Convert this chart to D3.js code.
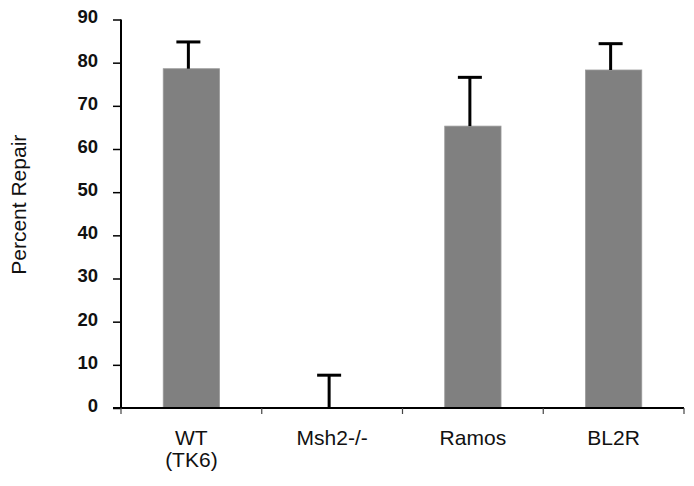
<!DOCTYPE html>
<html>
<head>
<meta charset="utf-8">
<script src="https://cdn.jsdelivr.net/npm/d3@7"></script>
<style>
  body { margin: 0; background: #fff; }
  svg { display: block; }
</style>
</head>
<body>
<div id="chart"></div>
<script>
// data
const categories = ["WT\n(TK6)", "Msh2-/-", "Ramos", "BL2R"];
const means = [78.6, 0, 65.3, 78.3];
const errors = [6.2, 7.6, 11.3, 6.1];
const yTicks = [0, 10, 20, 30, 40, 50, 60, 70, 80, 90];

const width = 694, height = 486;
const margin = {top: 19.5, right: 10, bottom: 78, left: 121};

const svg = d3.select("#chart").append("svg")
    .attr("width", width)
    .attr("height", height)
    .style("font-family", "'Liberation Sans', Arial, sans-serif");

const x = d3.scaleBand()
    .domain(categories)
    .range([margin.left, width - margin.right])
    .paddingInner(0.6)
    .paddingOuter(0.3);

const y = d3.scaleLinear()
    .domain([0, 90])
    .range([height - margin.bottom, margin.top]);

// bars
svg.append("g")
    .selectAll("rect")
    .data(means)
    .join("rect")
    .attr("x", (d, i) => x(categories[i]))
    .attr("y", d => y(d))
    .attr("width", x.bandwidth())
    .attr("height", d => y(0) - y(d))
    .attr("fill", "#808080")
    .attr("stroke", "#9a9a9a")
    .attr("stroke-width", 0.8);

// error bars (upper only), drawn slightly left of bar centre like the original
const errOffset = -3;
const capW = 24;
const err = svg.append("g")
    .attr("stroke", "#000")
    .attr("stroke-width", 3);

err.selectAll("line.stem")
    .data(means)
    .join("line")
    .attr("class", "stem")
    .attr("x1", (d, i) => x(categories[i]) + x.bandwidth() / 2 + errOffset)
    .attr("x2", (d, i) => x(categories[i]) + x.bandwidth() / 2 + errOffset)
    .attr("y1", d => y(d))
    .attr("y2", (d, i) => y(d + errors[i]));

err.selectAll("line.cap")
    .data(means)
    .join("line")
    .attr("class", "cap")
    .attr("x1", (d, i) => x(categories[i]) + x.bandwidth() / 2 + errOffset - capW / 2)
    .attr("x2", (d, i) => x(categories[i]) + x.bandwidth() / 2 + errOffset + capW / 2)
    .attr("y1", (d, i) => y(d + errors[i]))
    .attr("y2", (d, i) => y(d + errors[i]));

// y axis
const yAxis = svg.append("g")
    .attr("transform", `translate(${margin.left},0)`)
    .call(d3.axisLeft(y).tickValues(yTicks).tickSize(8).tickPadding(15));

yAxis.select(".domain").attr("stroke-width", 2).attr("d", `M0,${y(90)}V${y(0)}`);
yAxis.selectAll(".tick line").attr("stroke-width", 1.5);
yAxis.selectAll(".tick text")
    .attr("font-size", 18.5)
    .attr("font-weight", "bold")
    .attr("font-family", "'Liberation Sans', Arial, sans-serif")
    .attr("fill", "#111")
    .attr("dy", "0.18em");

// x axis: ticks sit between categories
const xAxisG = svg.append("g")
    .attr("transform", `translate(0,${y(0)})`);

xAxisG.append("line")
    .attr("x1", margin.left - 8)
    .attr("x2", width - margin.right)
    .attr("stroke", "#000")
    .attr("stroke-width", 2);

const step = x.step();
const bounds = d3.range(categories.length + 1).map(i => margin.left + i * step);
xAxisG.selectAll("line.sep")
    .data(bounds)
    .join("line")
    .attr("class", "sep")
    .attr("x1", d => d)
    .attr("x2", d => d)
    .attr("y1", 0)
    .attr("y2", 6)
    .attr("stroke", "#444")
    .attr("stroke-width", 1.2);

const labels = xAxisG.selectAll("text")
    .data(categories)
    .join("text")
    .attr("x", d => x(d) + x.bandwidth() / 2)
    .attr("y", 37)
    .attr("text-anchor", "middle")
    .attr("font-size", 21)
    .attr("fill", "#111");

labels.each(function(d) {
    const parts = d.split("\n");
    d3.select(this).selectAll("tspan")
        .data(parts)
        .join("tspan")
        .attr("x", x(d) + x.bandwidth() / 2)
        .attr("dy", (p, j) => j === 0 ? 0 : 22)
        .text(p => p);
});

// y title
svg.append("text")
    .attr("transform", `translate(25.5,${(y(0) + y(90)) / 2 - 9}) rotate(-90)`)
    .attr("text-anchor", "middle")
    .attr("font-size", 21)
    .attr("fill", "#111")
    .text("Percent Repair");
</script>
</body>
</html>
